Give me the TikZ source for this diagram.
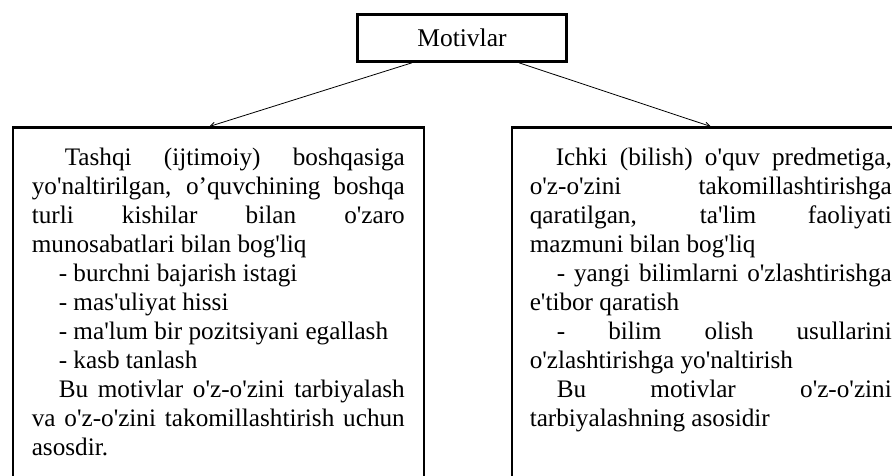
\documentclass[tikz,border=0pt]{standalone}
\usepackage{fontspec}
\setmainfont{Liberation Serif}[Ligatures=TeXOff]
\usetikzlibrary{arrows.meta}

\begin{document}
\begin{tikzpicture}[x=1pt,y=1pt,
    bigbox/.style={draw, line width=2.6pt, rectangle, anchor=north west, align=justify,
        inner ysep=20pt,
        font=\fontsize{25.2}{29}\selectfont,
        execute at begin node={\setlength\parindent{27pt}\setlength\parskip{0pt}%
            \tolerance=10000 \hyphenpenalty=10000 \exhyphenpenalty=10000}},
    link/.style={-{Straight Barb[length=5pt,width=5pt]}, line width=0.8pt}]
    \clip (0,0) rectangle (892,-476);
    \fill[white] (0,0) rectangle (892,-476);
    \node[draw, line width=2.6pt, minimum width=209pt, minimum height=47pt,
          font=\fontsize{25.5}{29}\selectfont] (motiv) at (462,-38) {Motivlar};
    \node[bigbox, inner xsep=19pt, text width=373pt] (tashqi) at (11.5,-126.5) {%
        \hspace*{33pt}Tashqi (ijtimoiy) boshqasiga\linebreak
        yo'naltirilgan, o’quvchining boshqa\linebreak
        turli kishilar bilan o'zaro\linebreak
        munosabatlari bilan bog'liq\par
        - burchni bajarish istagi\par
        - mas'uliyat hissi\par
        - ma'lum bir pozitsiyani egallash\par
        - kasb tanlash\par
        Bu motivlar o'z-o'zini tarbiyalash\linebreak
        va o'z-o'zini takomillashtirish uchun\linebreak
        asosdir.\par\rule{0pt}{80pt}};
    \node[bigbox, inner xsep=18pt, text width=362pt] (ichki) at (510.5,-126.5) {%
        \hspace*{26pt}Ichki (bilish) o'quv predmetiga,\linebreak
        o'z-o'zini takomillashtirishga\linebreak
        qaratilgan, ta'lim faoliyati\linebreak
        mazmuni bilan bog'liq\par
        - yangi bilimlarni o'zlashtirishga\linebreak
        e'tibor qaratish\par
        - bilim olish usullarini\linebreak
        o'zlashtirishga yo'naltirish\par
        Bu motivlar o'z-o'zini\linebreak
        tarbiyalashning asosidir\par\rule{0pt}{120pt}};
    % motivlar -> ikki tur
    \draw[link] ([xshift=-50pt]motiv.south) -- ([xshift=-9pt]tashqi.north);
    \draw[link] ([xshift=57pt]motiv.south) -- (ichki.north);
\end{tikzpicture}
\end{document}
